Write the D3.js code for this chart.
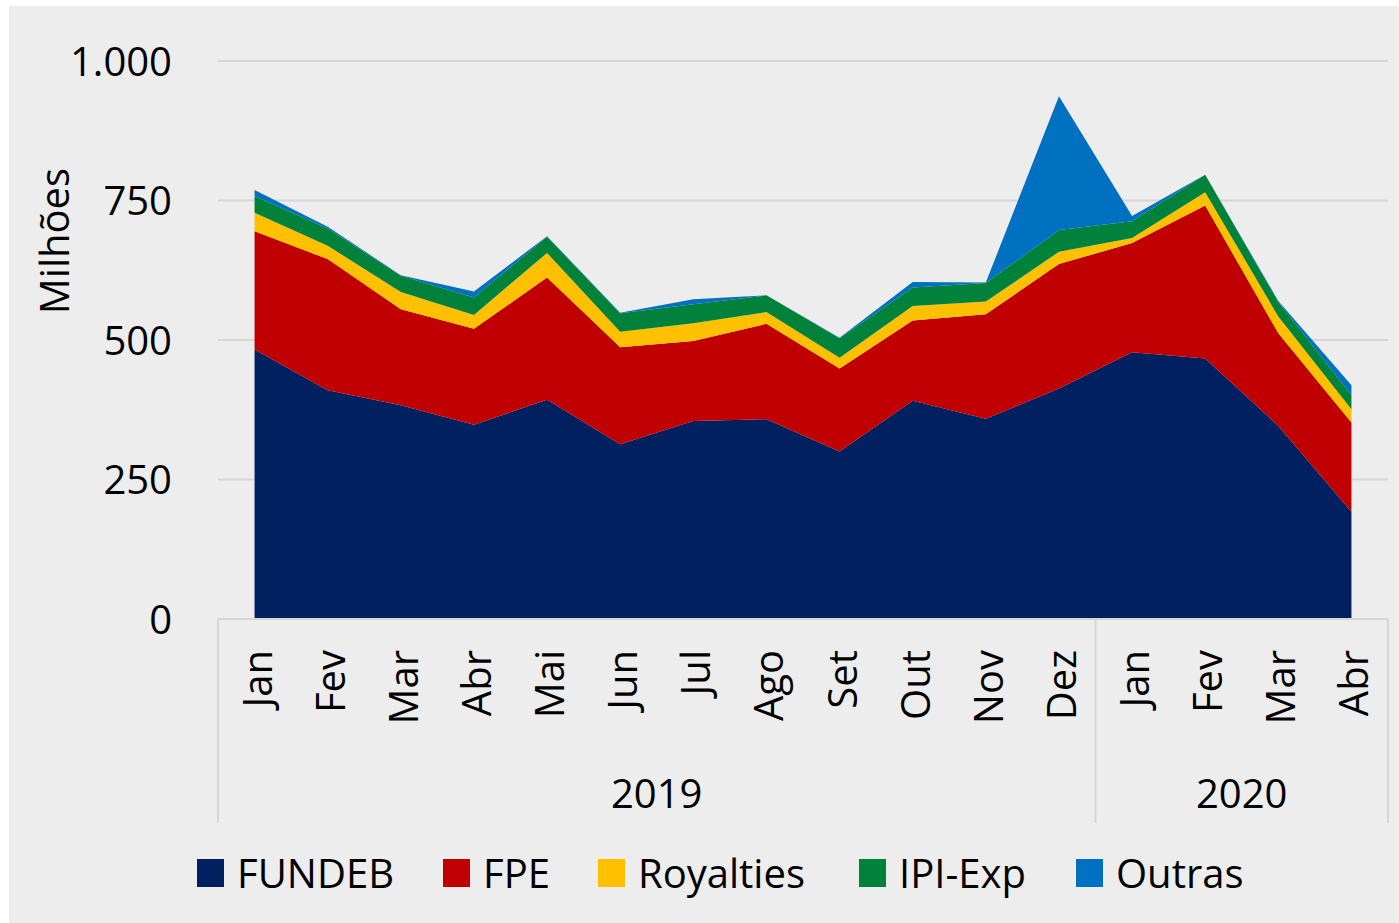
<!DOCTYPE html>
<html>
<head>
<meta charset="utf-8">
<script src="https://cdn.jsdelivr.net/npm/d3@7"></script>
<style>
  body { margin: 0; background: #fff; }
  svg { display: block; font-family: "Open Sans", sans-serif; }
</style>
</head>
<body>
<div id="chart"></div>
<script>
// data (milhões)
const months = ["Jan", "Fev", "Mar", "Abr", "Mai", "Jun", "Jul", "Ago", "Set", "Out", "Nov", "Dez", "Jan", "Fev", "Mar", "Abr"];
const periodYear = ["2019", "2019", "2019", "2019", "2019", "2019", "2019", "2019", "2019", "2019", "2019", "2019", "2020", "2020", "2020", "2020"];
const years = ["2019", "2020"];

const fundeb    = [483, 410, 383, 348, 393, 313, 355, 358, 300, 391, 359, 413, 478, 467, 346, 192];
const fpe       = [212, 235, 172, 172, 219, 174, 143, 171, 149, 144, 187, 223, 196, 274, 166, 160];
const royalties = [33, 24, 31, 25, 44, 28, 32, 21, 19, 26, 23, 22, 9, 24, 30, 24];
const ipiExp    = [30, 31, 29, 31, 29, 33, 34, 30, 35, 33, 33, 39, 30, 31, 26, 25];
const outras    = [11, 3, 1, 11, 1, 1, 9, 0, 1, 10, 1, 240, 9, 0, 2, 18];

const seriesNames = ["FUNDEB", "FPE", "Royalties", "IPI-Exp", "Outras"];
const yTicks = [0, 250, 500, 750, 1000];

const colors = d3.scaleOrdinal()
    .domain(seriesNames)
    .range(["#002060", "#C00000", "#FFC000", "#00823B", "#0070C0"]);

const config = {
    width: 1399,
    height: 923,
    margin: {top: 61, right: 11, bottom: 304, left: 218}
};

const width = config.width - config.margin.left - config.margin.right;
const height = config.height - config.margin.top - config.margin.bottom;

const table = months.map((m, i) => ({
    key: i,
    FUNDEB: fundeb[i],
    FPE: fpe[i],
    Royalties: royalties[i],
    "IPI-Exp": ipiExp[i],
    Outras: outras[i]
}));

const svg = d3.select("#chart")
    .append("svg")
    .attr("width", config.width)
    .attr("height", config.height);

svg.append("rect")
    .attr("x", 9)
    .attr("y", 6)
    .attr("width", config.width - 9)
    .attr("height", config.height - 6)
    .attr("fill", "#EDEDED");

const chart = svg.append("g")
    .attr("transform", `translate(${config.margin.left},${config.margin.top})`);

const xScale = d3.scaleBand()
    .domain(d3.range(months.length))
    .range([0, width]);
const xMid = i => xScale(i) + xScale.bandwidth() / 2;

const yScale = d3.scaleLinear()
    .domain([0, 1000])
    .range([height, 0]);

const locale = d3.formatLocale({decimal: ",", thousands: ".", grouping: [3], currency: ["", ""]});
const fmt = locale.format(",d");

// gridlines
chart.selectAll(".grid")
    .data(yTicks.filter(d => d > 0))
    .join("line")
    .attr("class", "grid")
    .attr("x1", 0)
    .attr("x2", width)
    .attr("y1", d => yScale(d))
    .attr("y2", d => yScale(d))
    .attr("stroke", "#D6D6D6")
    .attr("stroke-width", 2);

// stacked areas
const stack = d3.stack().keys(seriesNames);
const stacked = stack(table);

const area = d3.area()
    .x(d => xMid(d.data.key))
    .y0(d => yScale(d[0]))
    .y1(d => yScale(d[1]));

chart.selectAll(".layer")
    .data(stacked)
    .join("path")
    .attr("class", "layer")
    .attr("d", area)
    .attr("fill", d => colors(d.key));

// y axis labels
const yAxis = d3.axisLeft(yScale)
    .tickValues(yTicks)
    .tickFormat(fmt)
    .tickSize(0)
    .tickPadding(46);

chart.append("g")
    .attr("class", "y axis")
    .call(yAxis)
    .call(g => g.select(".domain").remove())
    .call(g => g.selectAll("text")
        .attr("font-size", 40)
        .attr("font-family", "Open Sans, sans-serif")
        .attr("fill", "#000")
        .attr("dy", "0.36em"));

svg.append("text")
    .attr("transform", "translate(69,241) rotate(-90)")
    .attr("text-anchor", "middle")
    .attr("font-size", 40)
    .text("Milhões");

// category axis (months + years)
const axisG = chart.append("g")
    .attr("transform", `translate(0,${height})`);

axisG.append("line")
    .attr("x1", 0).attr("x2", width)
    .attr("y1", 0).attr("y2", 0)
    .attr("stroke", "#D6D6D6")
    .attr("stroke-width", 2);

const yearBounds = years.map(y => {
    const idx = periodYear.map((p, i) => p === y ? i : -1).filter(i => i >= 0);
    return {year: y, x0: xScale(idx[0]), x1: xScale(idx[idx.length - 1]) + xScale.bandwidth()};
});

const sepX = [0].concat(yearBounds.map(d => d.x1));
axisG.selectAll(".sep")
    .data(sepX)
    .join("line")
    .attr("class", "sep")
    .attr("x1", d => d).attr("x2", d => d)
    .attr("y1", 0).attr("y2", 204)
    .attr("stroke", "#D6D6D6")
    .attr("stroke-width", 2);

axisG.selectAll(".month")
    .data(months)
    .join("text")
    .attr("class", "month")
    .attr("transform", (d, i) => `translate(${xMid(i) + 17},31) rotate(-90)`)
    .attr("text-anchor", "end")
    .attr("font-size", 40)
    .text(d => d);

axisG.selectAll(".year")
    .data(yearBounds)
    .join("text")
    .attr("class", "year")
    .attr("x", d => (d.x0 + d.x1) / 2)
    .attr("y", 189)
    .attr("text-anchor", "middle")
    .attr("font-size", 40)
    .text(d => d.year);

// legend
const legendX = [197, 443, 598, 859, 1076];
const legend = svg.selectAll(".legend")
    .data(seriesNames)
    .join("g")
    .attr("class", "legend")
    .attr("transform", (d, i) => `translate(${legendX[i]},859)`);

legend.append("rect")
    .attr("width", 27)
    .attr("height", 28)
    .attr("fill", d => colors(d));

legend.append("text")
    .attr("x", 40)
    .attr("y", 29)
    .attr("font-size", 40)
    .text(d => d);
</script>
</body>
</html>
